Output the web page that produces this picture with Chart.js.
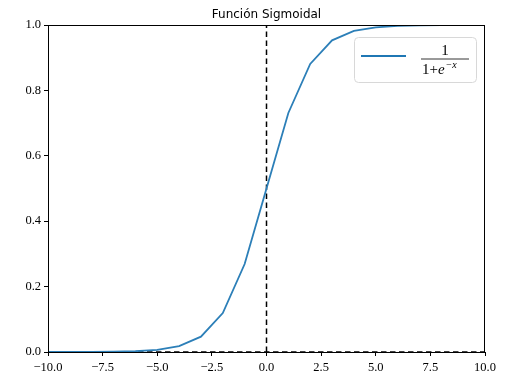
<!DOCTYPE html>
<html>
<head>
<meta charset="utf-8">
<script src="https://cdn.jsdelivr.net/npm/chart.js@4/dist/chart.umd.min.js"></script>
<style>
  html, body { margin: 0; padding: 0; background: #fff; }
  #wrap { width: 515px; height: 387px; position: relative; }
</style>
</head>
<body>
<div id="wrap"><canvas id="grafico" width="515" height="387"></canvas></div>
<script>
// datos
const xs = [-10, -9, -8, -7, -6, -5, -4, -3, -2, -1, 0, 1, 2, 3, 4, 5, 6, 7, 8, 9];
const ys = [0.00005, 0.0001, 0.0003, 0.0009, 0.0025, 0.0067, 0.018, 0.047, 0.119, 0.269,
            0.5, 0.731, 0.881, 0.953, 0.982, 0.993, 0.9975, 0.999, 0.9997, 0.9999];
const xTicks = [-10, -7.5, -5, -2.5, 0, 2.5, 5, 7.5, 10];
const yTicks = [0, 0.2, 0.4, 0.6, 0.8, 1.0];
const titulo = "Función Sigmoidal";

const serif = "'Liberation Serif', 'DejaVu Serif', serif";

function fmt(v) {
    return (v < 0 ? "\u2212" : "") + Math.abs(v).toFixed(1);
}

// marco, titulo y leyenda
const extras = {
    id: "extras",
    afterDraw(chart) {
        const ctx = chart.ctx;
        const a = chart.chartArea;
        ctx.save();
        ctx.strokeStyle = "#000";
        ctx.lineWidth = 1;
        ctx.strokeRect(a.left + 0.5, a.top + 0.5, a.right - a.left - 1, a.bottom - a.top);

        ctx.fillStyle = "#000";
        ctx.font = "12px 'DejaVu Sans', sans-serif";
        ctx.textAlign = "center";
        ctx.textBaseline = "alphabetic";
        ctx.fillText(titulo, (a.left + a.right) / 2, 18);

        // leyenda
        const lx = 354, ly = 37, lw = 122, lh = 45;
        ctx.beginPath();
        ctx.roundRect(lx + 0.5, ly + 0.5, lw, lh, 4);
        ctx.fillStyle = "rgba(255,255,255,0.8)";
        ctx.fill();
        ctx.strokeStyle = "#d8d8d8";
        ctx.stroke();

        ctx.beginPath();
        ctx.strokeStyle = "#1f77b4";
        ctx.lineWidth = 1.8;
        ctx.moveTo(361, 56);
        ctx.lineTo(406, 56);
        ctx.stroke();

        ctx.fillStyle = "#000";
        ctx.font = "15px " + serif;
        ctx.textAlign = "center";
        ctx.fillText("1", 445, 55);
        ctx.beginPath();
        ctx.lineWidth = 0.8;
        ctx.strokeStyle = "#000";
        ctx.moveTo(421, 59);
        ctx.lineTo(469, 59);
        ctx.stroke();
        ctx.textAlign = "left";
        ctx.font = "15px " + serif;
        ctx.fillText("1+", 422, 74);
        const w = ctx.measureText("1+").width;
        ctx.font = "italic 15px " + serif;
        ctx.fillText("e", 422 + w, 74);
        const we = ctx.measureText("e").width;
        ctx.font = "italic 10px " + serif;
        ctx.fillText("\u2212x", 422 + w + we + 1, 68);
        ctx.restore();
    }
};

const ctxSig = document.getElementById("grafico");
new Chart(ctxSig, {
    type: "scatter",
    data: {
        datasets: [
            {
                label: "sigmoide",
                data: xs.map((x, i) => ({ x: x, y: ys[i] })),
                showLine: true,
                borderColor: "#2c7fb8",
                borderWidth: 1.8,
                pointRadius: 0,
                tension: 0
            },
            {
                label: "eje x",
                data: [{ x: -10, y: 0 }, { x: 10, y: 0 }],
                showLine: true,
                borderColor: "#000",
                borderWidth: 1.5,
                borderDash: [5.5, 3.5],
                pointRadius: 0
            },
            {
                label: "eje y",
                data: [{ x: 0, y: 0 }, { x: 0, y: 1 }],
                showLine: true,
                borderColor: "#000",
                borderWidth: 1.5,
                borderDash: [5.5, 3.5],
                pointRadius: 0
            }
        ]
    },
    options: {
        responsive: false,
        animation: false,
        devicePixelRatio: 1,
        layout: { padding: { top: 25, right: 30, left: 0, bottom: 0 } },
        plugins: {
            legend: { display: false },
            tooltip: { enabled: false }
        },
        scales: {
            x: {
                type: "linear",
                min: -10, max: 10,
                afterBuildTicks: (s) => { s.ticks = xTicks.map(v => ({ value: v })); },
                afterFit: (s) => { s.height = 35; },
                grid: { drawOnChartArea: false, tickLength: 4, color: "#000", lineWidth: 1 },
                border: { display: false },
                ticks: {
                    callback: (v) => fmt(v),
                    color: "#000",
                    font: { family: serif, size: 12.5 },
                    padding: 4,
                    autoSkip: false,
                    maxRotation: 0
                }
            },
            y: {
                type: "linear",
                min: 0, max: 1,
                afterBuildTicks: (s) => { s.ticks = yTicks.map(v => ({ value: v })); },
                afterFit: (s) => { s.width = 48; },
                grid: { drawOnChartArea: false, tickLength: 4, color: "#000", lineWidth: 1 },
                border: { display: false },
                ticks: {
                    callback: (v) => fmt(v),
                    color: "#000",
                    font: { family: serif, size: 12.5 },
                    autoSkip: false,
                    padding: 3
                }
            }
        }
    },
    plugins: [extras]
});
</script>
</body>
</html>
